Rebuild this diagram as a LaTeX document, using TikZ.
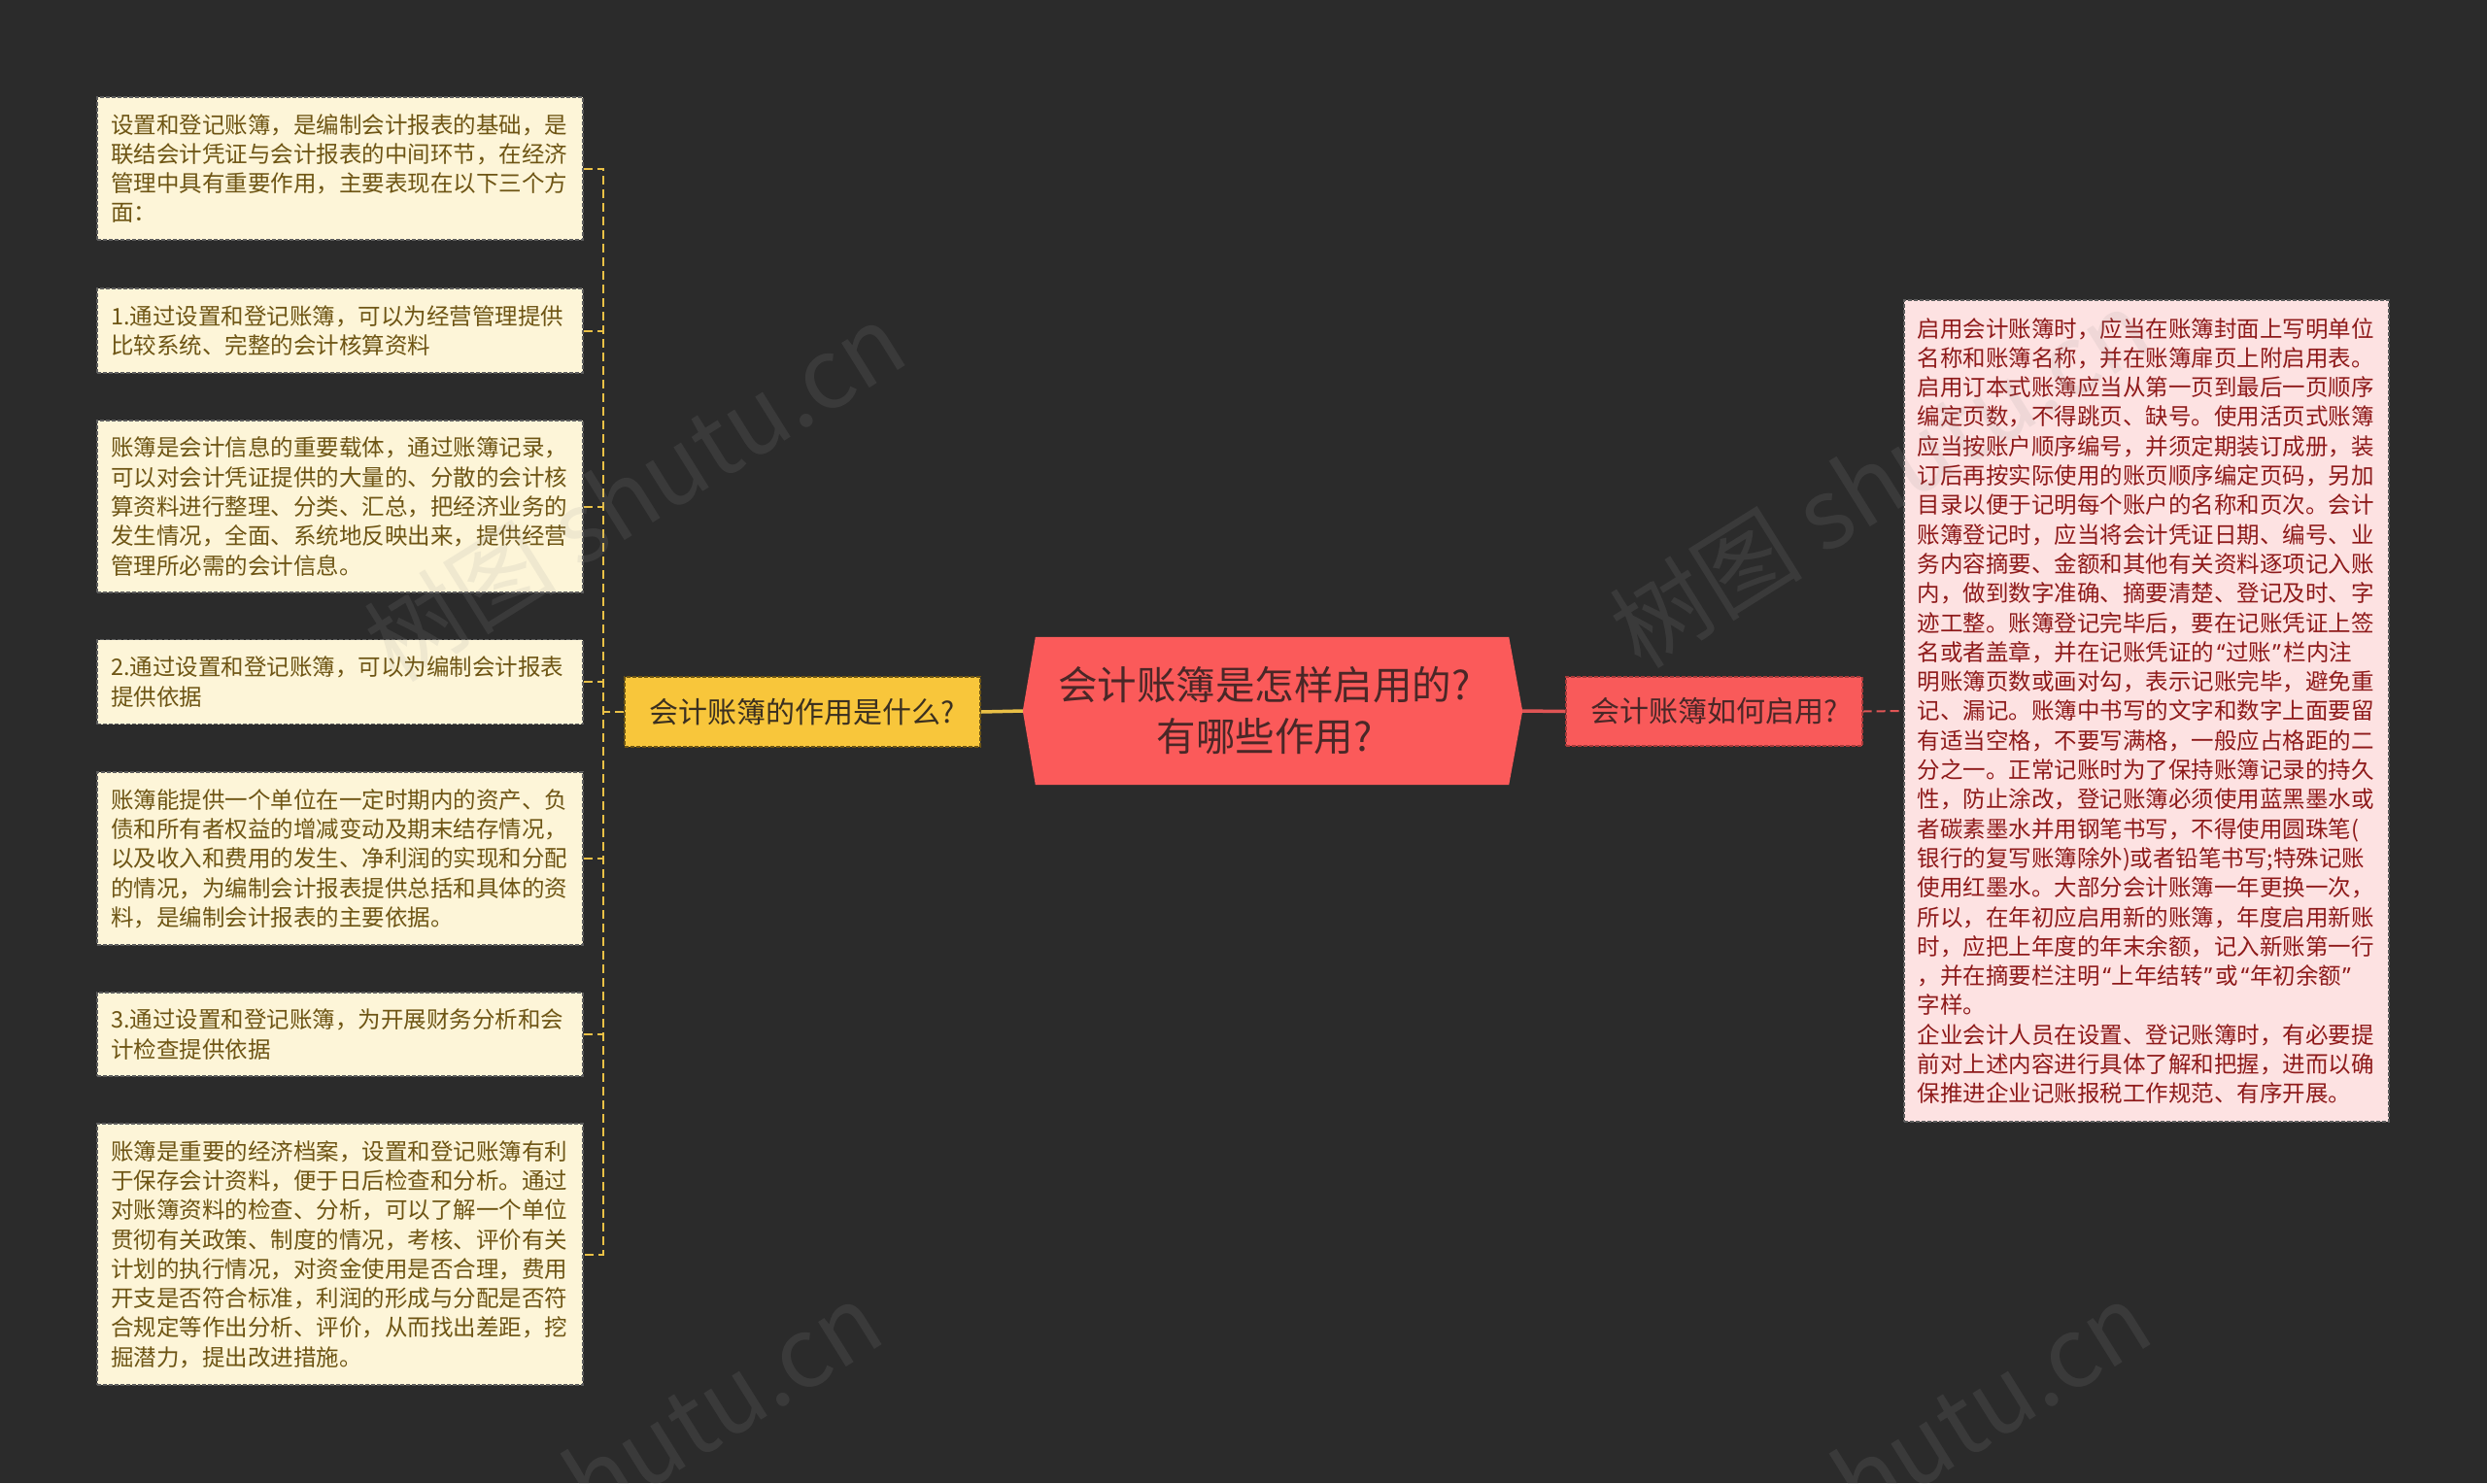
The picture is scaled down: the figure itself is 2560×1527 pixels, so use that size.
\documentclass[tikz,border=0pt]{standalone}
\usepackage{fontspec}
\setmainfont{Noto Sans CJK SC}
\newfontfamily\latinq{Noto Sans}
\newcommand{\oq}{\kern3pt{\latinq “}\kern1pt}
\newcommand{\cq}{\kern1pt{\latinq ”}\kern3pt}
\usetikzlibrary{calc,backgrounds}
\definecolor{bg}{HTML}{2B2B2B}
\definecolor{cream}{HTML}{FDF5D8}
\definecolor{ltext}{HTML}{6E5514}
\definecolor{bordergray}{HTML}{5C5C5C}
\definecolor{yfill}{HTML}{F8C63B}
\definecolor{ytext}{HTML}{3B3020}
\definecolor{yline}{HTML}{E9C046}
\definecolor{cred}{HTML}{FB5A5A}
\definecolor{ctext}{HTML}{4A2727}
\definecolor{rfill}{HTML}{F95A5A}
\definecolor{rborder}{HTML}{A83A3A}
\definecolor{rline}{HTML}{E05555}
\definecolor{pink}{HTML}{FDE2E2}
\definecolor{ptext}{HTML}{8E1A1A}
\definecolor{wmgray}{HTML}{9A9A9A}
\begin{document}
\begin{tikzpicture}[x=1pt,y=-1pt,
  lbox/.style={draw=bordergray, fill=cream, dash pattern=on 4pt off 2pt, line width=1.4pt,
    text=ltext, font=\fontsize{23.5}{30.3}\selectfont, align=left, text width=472pt,
    inner xsep=14pt, inner ysep=0pt, minimum height=#1},
  pbox/.style={draw=bordergray, fill=pink, dash pattern=on 4pt off 2pt, line width=1.4pt,
    text=ptext, font=\fontsize{23.5}{30.3}\selectfont, align=left, text width=472pt,
    inner xsep=13.5pt, inner ysep=0pt, minimum height=#1},
  ynode/.style={draw=ltext, fill=yfill, dash pattern=on 4pt off 2pt, line width=1.4pt,
    text=ytext, font=\fontsize{30}{36}\selectfont, minimum width=366pt, minimum height=72pt, inner sep=0pt},
  rnode/.style={draw=rborder, fill=rfill, dash pattern=on 4pt off 2pt, line width=1.4pt,
    text=ctext, font=\fontsize{30}{36}\selectfont, minimum width=305pt, minimum height=71pt, inner sep=0pt},
  cnode/.style={text=ctext, font=\fontsize{40.5}{53}\selectfont, align=center,
    minimum width=487pt, minimum height=152pt, inner sep=0pt},
  ydash/.style={draw=yline, line width=2pt, dash pattern=on 9pt off 5pt},
  rdash/.style={draw=rline, line width=2pt, dash pattern=on 9pt off 5pt},
  yconn/.style={draw=yline, line width=3.5pt},
  rconn/.style={draw=rline, line width=3.5pt},
  wmark/.style={text=wmgray, opacity=0.14, rotate=32, font=\fontsize{100}{110}\selectfont, inner sep=0pt}
]
\useasboundingbox (0,0) rectangle (2560,1527);

% left detail boxes
\node[lbox=147pt] (b1) at (350,173.5) {设置和登记账簿，是编制会计报表的基础，是\\联结会计凭证与会计报表的中间环节，在经济\\管理中具有重要作用，主要表现在以下三个方\\面：};
\node[lbox=87pt] (b2) at (350,340.5) {1.通过设置和登记账簿，可以为经营管理提供\\比较系统、完整的会计核算资料};
\node[lbox=177pt] (b3) at (350,521.5) {账簿是会计信息的重要载体，通过账簿记录，\\可以对会计凭证提供的大量的、分散的会计核\\算资料进行整理、分类、汇总，把经济业务的\\发生情况，全面、系统地反映出来，提供经营\\管理所必需的会计信息。};
\node[lbox=87pt] (b4) at (350,702) {2.通过设置和登记账簿，可以为编制会计报表\\提供依据};
\node[lbox=178pt] (b5) at (350,884) {账簿能提供一个单位在一定时期内的资产、负\\债和所有者权益的增减变动及期末结存情况，\\以及收入和费用的发生、净利润的实现和分配\\的情况，为编制会计报表提供总括和具体的资\\料，是编制会计报表的主要依据。};
\node[lbox=86pt] (b6) at (350,1065) {3.通过设置和登记账簿，为开展财务分析和会\\计检查提供依据};
\node[lbox=269pt] (b7) at (350,1291.5) {账簿是重要的经济档案，设置和登记账簿有利\\于保存会计资料，便于日后检查和分析。通过\\对账簿资料的检查、分析，可以了解一个单位\\贯彻有关政策、制度的情况，考核、评价有关\\计划的执行情况，对资金使用是否合理，费用\\开支是否符合标准，利润的形成与分配是否符\\合规定等作出分析、评价，从而找出差距，挖\\掘潜力，提出改进措施。};

% branch nodes
\node[ynode] (yel) at (826,733) {会计账簿的作用是什么?};
\node[cnode] (c) at (1309.5,732) {\hspace*{-16pt}会计账簿是怎样启用的?\\\hspace*{-16pt}有哪些作用?};
\node[rnode] (rn) at (1764.5,732.5) {会计账簿如何启用?};

% right detail box
\node[pbox=846pt] (rb) at (2209.5,732) {启用会计账簿时，应当在账簿封面上写明单位\\名称和账簿名称，并在账簿扉页上附启用表。\\启用订本式账簿应当从第一页到最后一页顺序\\编定页数，不得跳页、缺号。使用活页式账簿\\应当按账户顺序编号，并须定期装订成册，装\\订后再按实际使用的账页顺序编定页码，另加\\目录以便于记明每个账户的名称和页次。会计\\账簿登记时，应当将会计凭证日期、编号、业\\务内容摘要、金额和其他有关资料逐项记入账\\内，做到数字准确、摘要清楚、登记及时、字\\迹工整。账簿登记完毕后，要在记账凭证上签\\名或者盖章，并在记账凭证的\oq 过账\cq 栏内注\\明账簿页数或画对勾，表示记账完毕，避免重\\记、漏记。账簿中书写的文字和数字上面要留\\有适当空格，不要写满格，一般应占格距的二\\分之一。正常记账时为了保持账簿记录的持久\\性，防止涂改，登记账簿必须使用蓝黑墨水或\\者碳素墨水并用钢笔书写，不得使用圆珠笔(\\银行的复写账簿除外)或者铅笔书写;特殊记账\\使用红墨水。大部分会计账簿一年更换一次，\\所以，在年初应启用新的账簿，年度启用新账\\时，应把上年度的年末余额，记入新账第一行\\，并在摘要栏注明\oq 上年结转\cq 或\oq 年初余额\cq\\字样。\\企业会计人员在设置、登记账簿时，有必要提\\前对上述内容进行具体了解和把握，进而以确\\保推进企业记账报税工作规范、有序开展。};

\coordinate (cl) at ($(c.west)+(-13pt,0pt)$);
\coordinate (cr) at ($(c.east)+(14pt,0pt)$);
\coordinate (sp) at (621,0);

\begin{scope}[on background layer]
  \fill[bg] (0,0) rectangle (2560,1527);
  \fill[cred] (c.north west) -- (c.north east) -- (cr) -- (c.south east) -- (c.south west) -- (cl) -- cycle;
  % connectors
  \draw[ydash] (b1.east) -- (b1.east -| sp) -- (b7.east -| sp) -- (b7.east);
  \foreach \b in {b2,b3,b4,b5,b6} {\draw[ydash] (\b.east) -- (\b.east -| sp);}
  \draw[ydash] (yel.west) -- (yel.west -| sp);
  \draw[yconn] (yel.east) -- (cl);
  \draw[rconn] (cr) -- (rn.west);
  \draw[rdash] (rn.east) -- (rb.west);
\end{scope}

% watermarks
\node[wmark] (wm1) at (653,506) {树图 shutu.cn};
\node[wmark] (wm2) at (1935,492) {树图 shutu.cn};
\node[wmark] (wm3) at (629,1514) {树图 shutu.cn};
\node[wmark] (wm4) at (1935,1514) {树图 shutu.cn};
\end{tikzpicture}
\end{document}
